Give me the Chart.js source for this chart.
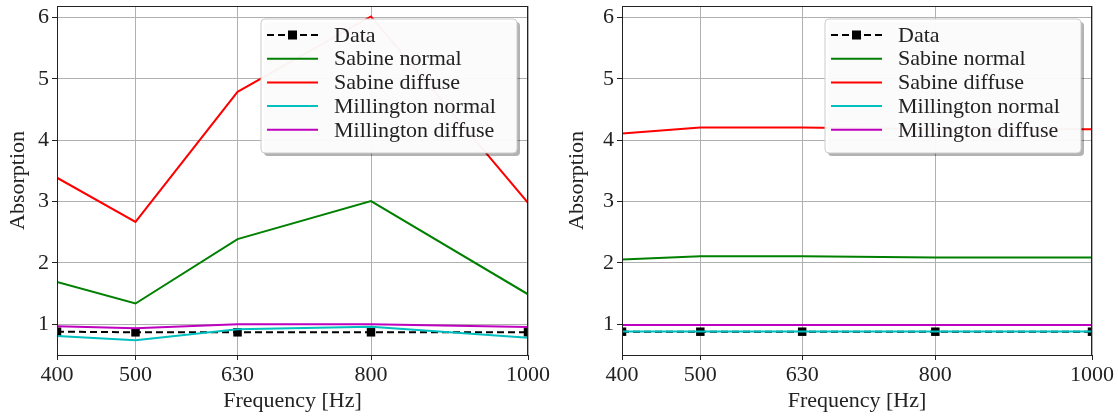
<!DOCTYPE html>
<html>
<head>
  <meta charset="utf-8" />
  <script src="https://cdn.jsdelivr.net/npm/chart.js@4.4.0/dist/chart.umd.min.js"></script>
  <style>
    body { margin: 0; background: #fff; }
    #wrap { position: relative; width: 1118px; height: 417px; }
    .box { position: absolute; top: 0; width: 559px; height: 417px; }
  </style>
</head>
<body>
  <div id="wrap">
    <div class="box" style="left:0"><canvas id="left"></canvas></div>
    <div class="box" style="left:559px"><canvas id="right"></canvas></div>
  </div>

  <script>
    // frequencies (tick labels too)
    const freqs = [400, 500, 630, 800, 1000];
    const yTicks = [1, 2, 3, 4, 5, 6];
    const seriesNames = ['Data', 'Sabine normal', 'Sabine diffuse', 'Millington normal', 'Millington diffuse'];

    // left panel
    const leftData = [0.88, 0.87, 0.87, 0.87, 0.87];
    const leftSabineNormal = [1.69, 1.34, 2.39, 3.01, 1.49];
    const leftSabineDiffuse = [3.39, 2.67, 4.79, 6.02, 2.98];
    const leftMillNormal = [0.81, 0.74, 0.92, 0.96, 0.78];
    const leftMillDiffuse = [0.97, 0.935, 1.0, 1.0, 0.955];

    // right panel
    const rightData = [0.88, 0.88, 0.88, 0.88, 0.88];
    const rightSabineNormal = [2.055, 2.11, 2.11, 2.09, 2.09];
    const rightSabineDiffuse = [4.11, 4.21, 4.21, 4.18, 4.18];
    const rightMillNormal = [0.885, 0.885, 0.885, 0.885, 0.885];
    const rightMillDiffuse = [0.99, 0.99, 0.99, 0.99, 0.99];

    const colors = ['#000000', '#008000', '#ff0000', '#00bfbf', '#bf00bf'];
    const FONT = "'Liberation Serif', serif";
    const FSIZE = 22;

    function pts(vals) {
      return freqs.map((f, i) => ({ x: f, y: vals[i] }));
    }

    function makeSets(list) {
      return list.map((vals, i) => ({
        label: seriesNames[i],
        data: pts(vals),
        borderColor: colors[i],
        backgroundColor: colors[i],
        borderWidth: 2,
        borderDash: i == 0 ? [7, 4] : [],
        pointStyle: 'rect',
        pointRadius: i == 0 ? 6 : 0,
        pointBorderWidth: 0,
        order: 5 - i,
        tension: 0,
      }));
    }

    // frame + matplotlib-like legend box
    const boxPlugin = {
      id: 'boxPlugin',
      afterDraw(chart) {
        const ctx = chart.ctx;
        const a = chart.chartArea;
        ctx.save();
        ctx.strokeStyle = '#222';
        ctx.lineWidth = 1;
        ctx.strokeRect(a.left + 0.5, a.top + 0.5, a.right - a.left - 1, a.bottom - a.top);

        const w = 256, h = 134;
        const x = a.right - 11 - w, y = a.top + 13;
        // shadow
        ctx.fillStyle = 'rgba(0,0,0,0.3)';
        ctx.beginPath();
        ctx.roundRect(x + 3, y + 3, w, h, 4);
        ctx.fill();
        ctx.fillStyle = 'rgba(255,255,255,0.95)';
        ctx.strokeStyle = '#cccccc';
        ctx.beginPath();
        ctx.roundRect(x, y, w, h, 4);
        ctx.fill();
        ctx.stroke();

        ctx.font = FSIZE + 'px ' + FONT;
        ctx.textBaseline = 'middle';
        chart.data.datasets.forEach((ds, i) => {
          const cy = y + 16 + i * 23.7;
          ctx.strokeStyle = ds.borderColor;
          ctx.lineWidth = 2;
          ctx.setLineDash(ds.borderDash);
          ctx.beginPath();
          ctx.moveTo(x + 6, cy);
          ctx.lineTo(x + 57, cy);
          ctx.stroke();
          ctx.setLineDash([]);
          if (ds.pointRadius > 0) {
            ctx.fillStyle = ds.backgroundColor;
            ctx.fillRect(x + 31.5 - 4.5, cy - 4.5, 9, 9);
          }
          ctx.fillStyle = '#222';
          ctx.fillText(ds.label, x + 73, cy + 1);
        });
        ctx.restore();
      }
    };

    function makeChart(id, list, yWidth, padRight) {
      return new Chart(document.getElementById(id), {
        type: 'line',
        data: { datasets: makeSets(list) },
        options: {
          responsive: false,
          animation: false,
          maintainAspectRatio: false,
          layout: { padding: { top: 2, right: padRight, left: 0, bottom: 0 } },
          plugins: { legend: { display: false }, tooltip: { enabled: false } },
          scales: {
            x: {
              type: 'linear',
              min: 400,
              max: 1000,
              afterBuildTicks: (s) => { s.ticks = freqs.map(v => ({ value: v })); },
              afterFit: (s) => { s.height = 62; s.paddingLeft = 0; s.paddingRight = 0; },
              grid: { color: '#b0b0b0', lineWidth: 1, tickColor: '#222', tickLength: 5 },
              border: { display: false },
              ticks: { color: '#222', font: { family: FONT, size: FSIZE }, padding: 2, maxRotation: 0,
                       callback: (v) => String(v) },
              title: { display: true, text: 'Frequency [Hz]', color: '#222', font: { family: FONT, size: FSIZE }, padding: { top: 0, bottom: 3 } },
            },
            y: {
              min: 0.5,
              max: 6.19,
              afterBuildTicks: (s) => { s.ticks = yTicks.map(v => ({ value: v })); },
              afterFit: (s) => { s.width = yWidth; s.paddingTop = 0; s.paddingBottom = 0; },
              grid: { color: '#b0b0b0', lineWidth: 1, tickColor: '#222', tickLength: 5 },
              border: { display: false },
              ticks: { color: '#222', font: { family: FONT, size: FSIZE }, padding: 3,
                       callback: (v) => String(v) },
              title: { display: true, text: 'Absorption', color: '#222', font: { family: FONT, size: FSIZE }, padding: { top: 5, bottom: 2 } },
            }
          }
        },
        plugins: [boxPlugin]
      });
    }

    document.getElementById('left').width = 559;
    document.getElementById('left').height = 417;
    document.getElementById('right').width = 559;
    document.getElementById('right').height = 417;

    makeChart('left', [leftData, leftSabineNormal, leftSabineDiffuse, leftMillNormal, leftMillDiffuse], 57, 31);
    makeChart('right', [rightData, rightSabineNormal, rightSabineDiffuse, rightMillNormal, rightMillDiffuse], 63, 26);
  </script>
</body>
</html>
